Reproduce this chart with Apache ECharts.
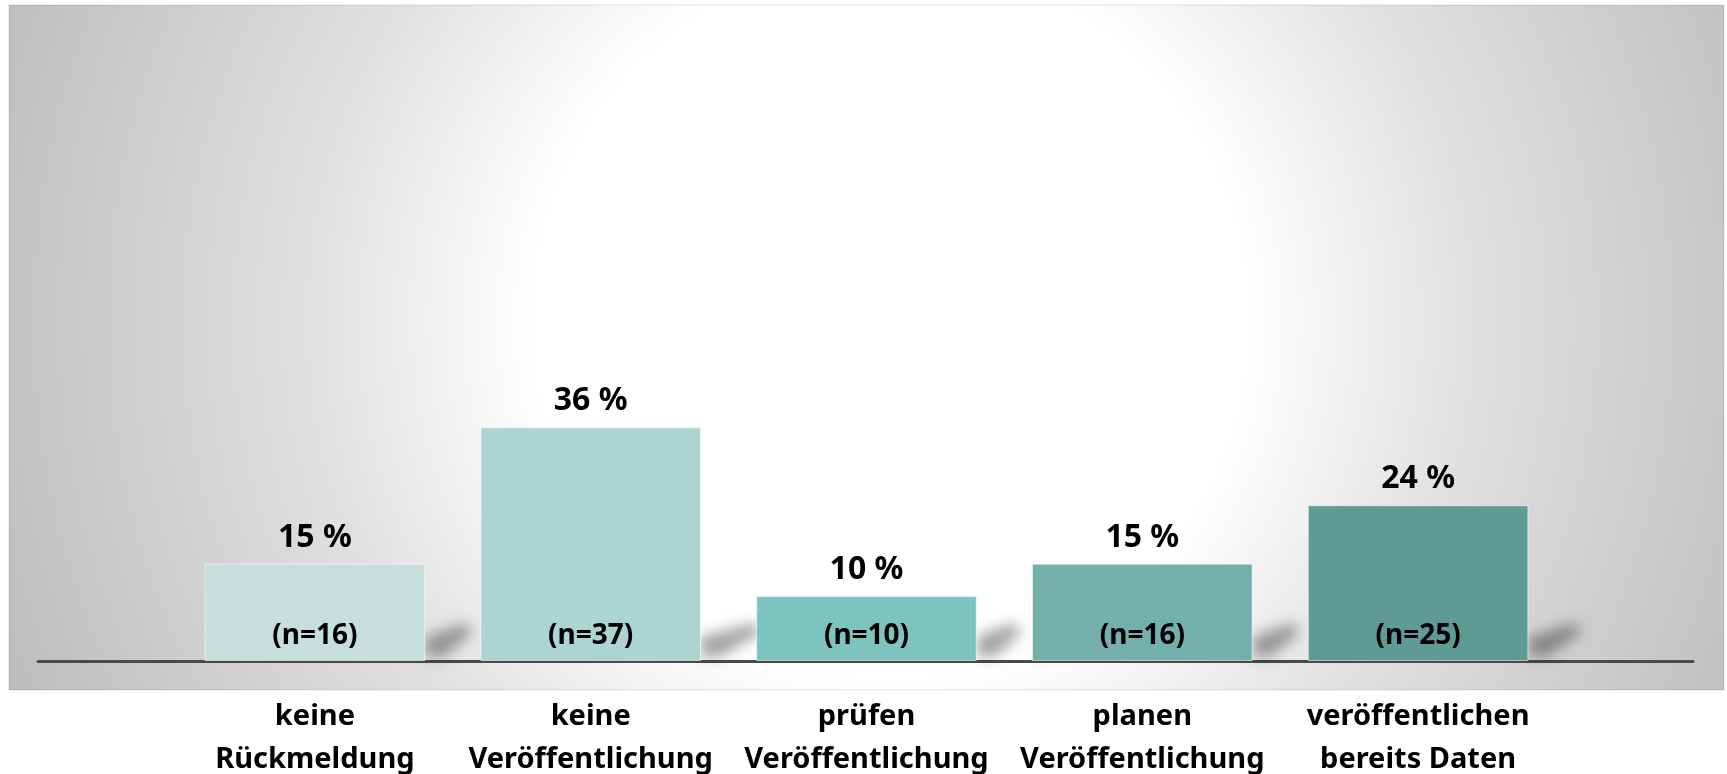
<!DOCTYPE html>
<html>
<head>
<meta charset="utf-8">
<title>Veröffentlichung</title>
<script src="https://cdn.jsdelivr.net/npm/echarts@6/dist/echarts.min.js"></script>
<style>
  html, body { margin: 0; padding: 0; background: #fff; }
  #chart { width: 1727px; height: 774px; }
</style>
</head>
<body>
<div id="chart"></div>
<script>
const categories = [
  'keine\nRückmeldung',
  'keine\nVeröffentlichung',
  'prüfen\nVeröffentlichung',
  'planen\nVeröffentlichung',
  'veröffentlichen\nbereits Daten'
]
const pctValues = [15, 36, 10, 15, 24]
const nValues = [16, 37, 10, 16, 25]
const barColors = ['#c6dfdc', '#acd4d0', '#7dc4bf', '#73b0ac', '#609a94']

const font = '"Noto Sans", sans-serif'
const myChart = echarts.init(document.getElementById('chart'))

const option = {
  animation: false,
  backgroundColor: '#ffffff',
  graphic: [{
    type: 'rect',
    z: -10,
    silent: true,
    shape: { x: 9, y: 5, width: 1715, height: 685 },
    style: {
      fill: {
        type: 'radial',
        x: 890,
        y: 320,
        r: 940,
        global: true,
        colorStops: [
          { offset: 0, color: '#ffffff' },
          { offset: 0.38, color: '#ffffff' },
          { offset: 0.62, color: '#e0e0e0' },
          { offset: 1, color: '#bebebe' }
        ]
      },
      stroke: 'rgba(0,0,0,0.12)',
      lineWidth: 1
    }
  }],
  grid: [
    { left: 177, right: 171, top: 12, bottom: 113, outerBoundsMode: 'none' },
    { left: 38, right: 34, top: 12, bottom: 113, outerBoundsMode: 'none' }
  ],
  xAxis: [{
    type: 'category',
    gridIndex: 0,
    data: categories,
    axisLine: { show: false },
    axisTick: { show: false },
    axisLabel: {
      interval: 0,
      margin: 34,
      color: '#000',
      fontFamily: font,
      fontWeight: 'bold',
      fontSize: 29,
      lineHeight: 43
    }
  }, {
    type: 'category',
    gridIndex: 1,
    data: [''],
    axisLine: { show: true, lineStyle: { color: '#4a4a4a', width: 3 } },
    axisTick: { show: false },
    axisLabel: { show: false }
  }],
  yAxis: [
    { type: 'value', gridIndex: 0, min: 0, max: 100, show: false },
    { type: 'value', gridIndex: 1, min: 0, max: 1, show: false }
  ],
  series: [{
    // soft perspective shadows next to the bars
    type: 'custom',
    z: 1,
    silent: true,
    data: pctValues.map((v, i) => [i, v]),
    renderItem: function (params, api) {
      const base = api.coord([api.value(0), 0])
      const top = api.coord([api.value(0), api.value(1)])
      const w = api.size([1, 0])[0] * 0.8
      const xr = base[0] + w / 2
      const y0 = base[1] - 2
      const len = 30 + (y0 - top[1]) * 0.1
      const off = 3000
      return {
        type: 'polygon',
        shape: {
          points: [
            [xr - off, y0 - 2],
            [xr - off, y0 - 22],
            [xr - off + len, y0 - 36],
            [xr - off + len + 8, y0 - 27],
            [xr - off + 18, y0 - 2]
          ]
        },
        style: {
          fill: '#000',
          shadowColor: 'rgba(0,0,0,0.36)',
          shadowBlur: 14,
          shadowOffsetX: off
        }
      }
    }
  }, {
    type: 'bar',
    z: 2,
    barCategoryGap: '20%',
    barGap: '-100%',
    data: pctValues.map((v, i) => ({ value: v, itemStyle: { color: barColors[i] } })),
    itemStyle: { borderColor: 'rgba(255,255,255,0.55)', borderWidth: 1 },
    label: {
      show: true,
      position: 'top',
      distance: 10,
      formatter: '{c} %',
      color: '#000',
      fontFamily: font,
      fontWeight: 'bold',
      fontSize: 32
    }
  }, {
    type: 'bar',
    z: 3,
    barCategoryGap: '20%',
    barGap: '-100%',
    data: pctValues,
    itemStyle: { color: 'rgba(0,0,0,0)' },
    label: {
      show: true,
      position: 'insideBottom',
      distance: 11,
      formatter: p => '(n=' + nValues[p.dataIndex] + ')',
      color: '#000',
      fontFamily: font,
      fontWeight: 'bold',
      fontSize: 28
    }
  }]
}

// use configuration item and data specified to show chart
myChart.setOption(option)
</script>
</body>
</html>
